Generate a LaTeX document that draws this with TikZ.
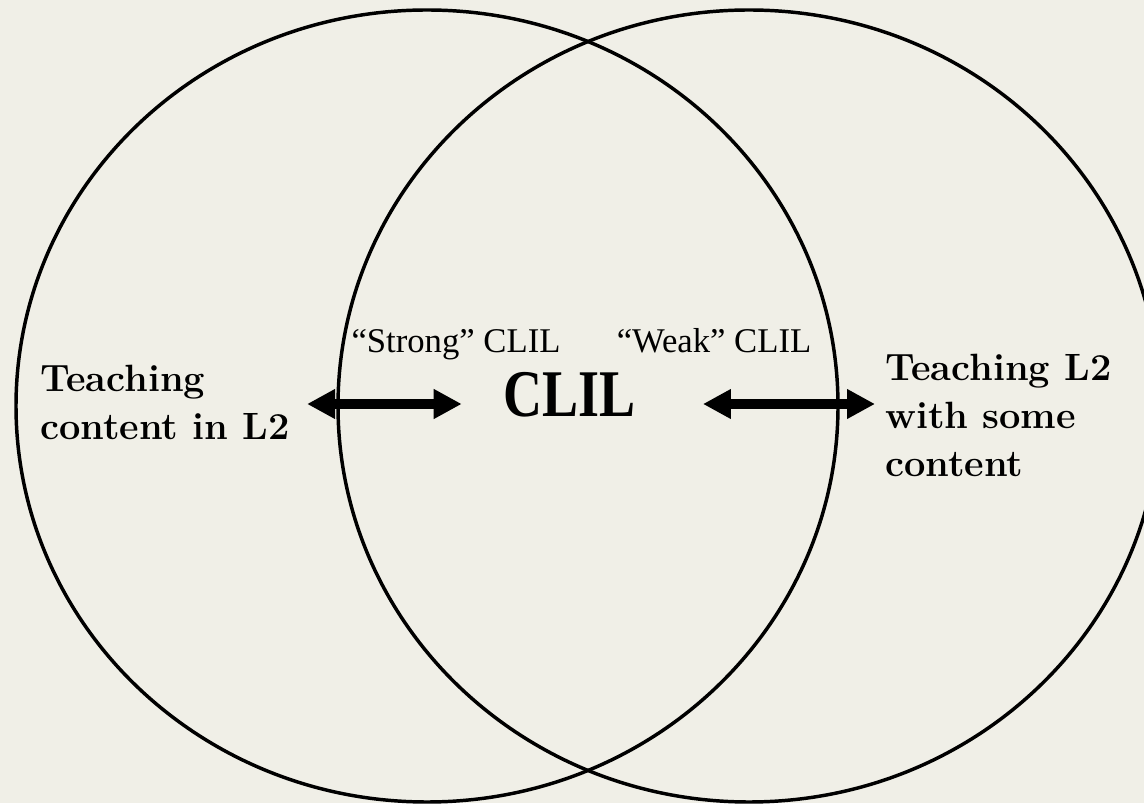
\documentclass[tikz,border=0pt]{standalone}
\usepackage{fontspec}
\usepackage{graphicx}
\usepackage{tikz}
\usetikzlibrary{arrows.meta}
\newfontfamily\timesfont{Liberation Serif}
\definecolor{clilPaper}{RGB}{240,239,231}

\begin{document}
\begin{tikzpicture}[x=0.75pt,y=0.75pt,
  ring/.style={black, line width=2.6pt},
  twoway/.style={black, line width=7.5pt, {Triangle[length=21pt,width=21pt]}-{Triangle[length=21pt,width=21pt]}},
  sidelabel/.style={font=\fontsize{28.5}{36}\selectfont\bfseries, align=left, inner sep=0pt, anchor=base west},
  kindlabel/.style={font=\timesfont\fontsize{26}{30}\selectfont, inner sep=0pt, anchor=base}]
\fill[clilPaper] (0,0) rectangle (1144,803);
\clip (0,0) rectangle (1144,803);
\draw[ring] (427,397) ellipse [x radius=411, y radius=396];
\draw[ring] (749,397) ellipse [x radius=411, y radius=396];
% base anchor sits on the last line
\node[sidelabel] (lcontent) at (40,363) {Teaching\\content in L2};
\node[sidelabel] (rteach) at (885,326) {Teaching L2\\with some\\content};
\node[kindlabel] (strong) at (456,450) {“Strong” CLIL};
\node[kindlabel] (weak) at (714,450) {“Weak” CLIL};
\node[font=\timesfont\fontsize{50}{50}\selectfont\bfseries, inner sep=0pt, anchor=base] (clil) at (570,386) {\scalebox{0.81}[1]{CLIL}};
\coordinate (lane) at ([yshift=9.75pt]clil.base);
\draw[twoway, shorten <=12.75pt, shorten >=31.5pt] (lcontent.east |- lane) -- (clil.west |- lane);
\draw[twoway, shorten <=50pt, shorten >=7.5pt] (clil.east |- lane) -- (rteach.west |- lane);
\end{tikzpicture}
\end{document}
